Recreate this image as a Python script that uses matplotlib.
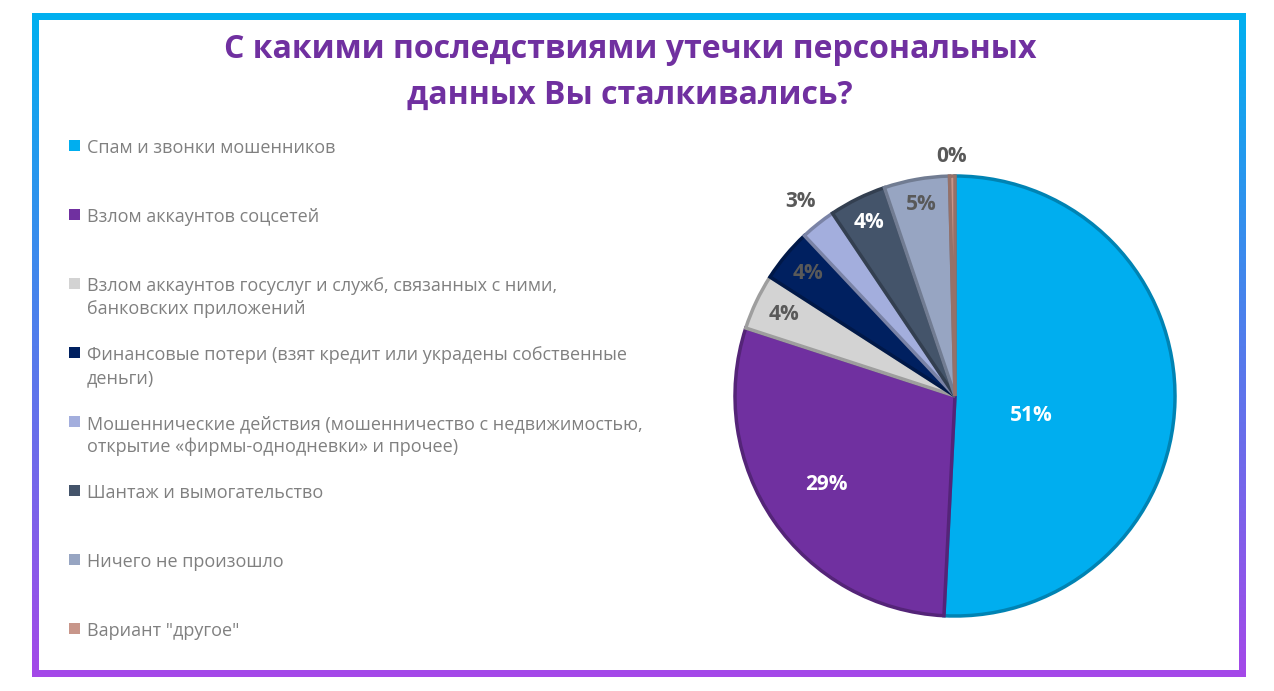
import numpy as np
import matplotlib.pyplot as plt
from matplotlib.patches import Rectangle
from matplotlib.colors import to_rgb

plt.rcParams['font.family'] = ['Open Sans', 'DejaVu Sans']

# data
categories = [
    'Спам и звонки мошенников',
    'Взлом аккаунтов соцсетей',
    'Взлом аккаунтов госуслуг и служб, связанных с ними,\nбанковских приложений',
    'Финансовые потери (взят кредит или украдены собственные\nденьги)',
    'Мошеннические действия (мошенничество с недвижимостью,\nоткрытие «фирмы-однодневки» и прочее)',
    'Шантаж и вымогательство',
    'Ничего не произошло',
    'Вариант "другое"',
]
shares = [50.8, 29.2, 4.1, 3.9, 2.6, 4.2, 4.8, 0.4]
labels = ['51%', '29%', '4%', '4%', '3%', '4%', '5%', '0%']

colors = ['#00AEEF', '#7030A0', '#D3D3D3', '#002060', '#A3AEDD', '#44546A', '#97A5C2', '#C8968A']
label_colors = ['white', 'white', '#595959', '#595959', '#595959', 'white', '#595959', '#595959']
label_r = [0.36, 0.71, 0.86, 0.87, 1.13, 0.88, 0.885, 1.09]
label_shift = [-13, 0, 0, 0, 0, 0, 0, 0]  # degrees

W, H = 1274, 691
fig = plt.figure(figsize=(W / 100, H / 100), dpi=100)

# background with gradient frame
bg = fig.add_axes([0, 0, 1, 1])
bg.axis('off')
img = np.ones((H, W, 3))
top = np.array(to_rgb('#00B0F0'))
bot = np.array(to_rgb('#A548E8'))
t = np.clip((np.arange(H) - 13) / (677 - 13), 0, 1)
grad = top[None, :] * (1 - t[:, None]) + bot[None, :] * t[:, None]
mask = np.zeros((H, W), bool)
mask[13:677, 32:1246] = True
mask[20:670, 39:1239] = False
img[mask] = np.broadcast_to(grad[:, None, :], (H, W, 3))[mask]
bg.imshow(img, extent=[0, W, H, 0], interpolation='nearest', aspect='auto')
bg.set_xlim(0, W)
bg.set_ylim(H, 0)

# title
bg.text(630, 72.5, 'С какими последствиями утечки персональных\nданных Вы сталкивались?',
        ha='center', va='center', fontsize=23, fontweight='bold', color='#7030A0',
        linespacing=1.5)

# legend
for i, (name, c) in enumerate(zip(categories, colors)):
    y = 145 + i * 69
    bg.add_patch(Rectangle((69, y - 5.5), 11, 11, facecolor=c, edgecolor='none'))
    bg.text(87, y - 6, name, ha='left', va='top', fontsize=13, color='#808080',
            linespacing=1.34)

# pie
cx, cy, r = 955, 396, 220
ax = fig.add_axes([(cx - r) / W, (H - cy - r) / H, 2 * r / W, 2 * r / H])
wedges, _ = ax.pie(shares, colors=colors, startangle=90, counterclock=False, radius=1,
                   wedgeprops=dict(linewidth=2.5))
for w, c in zip(wedges, colors):
    w.set_edgecolor(tuple(np.array(to_rgb(c)) * 0.75))
    w.set_clip_on(False)
ax.set_xlim(-1, 1)
ax.set_ylim(-1, 1)
ax.set_aspect('equal')
ax.axis('off')

for w, lab, lc, lr, sh in zip(wedges, labels, label_colors, label_r, label_shift):
    mid = np.deg2rad((w.theta1 + w.theta2) / 2 + sh)
    ax.text(lr * np.cos(mid), lr * np.sin(mid), lab, ha='center', va='center',
            fontsize=15, fontweight='bold', color=lc)

fig.savefig('out.png', dpi=100)
